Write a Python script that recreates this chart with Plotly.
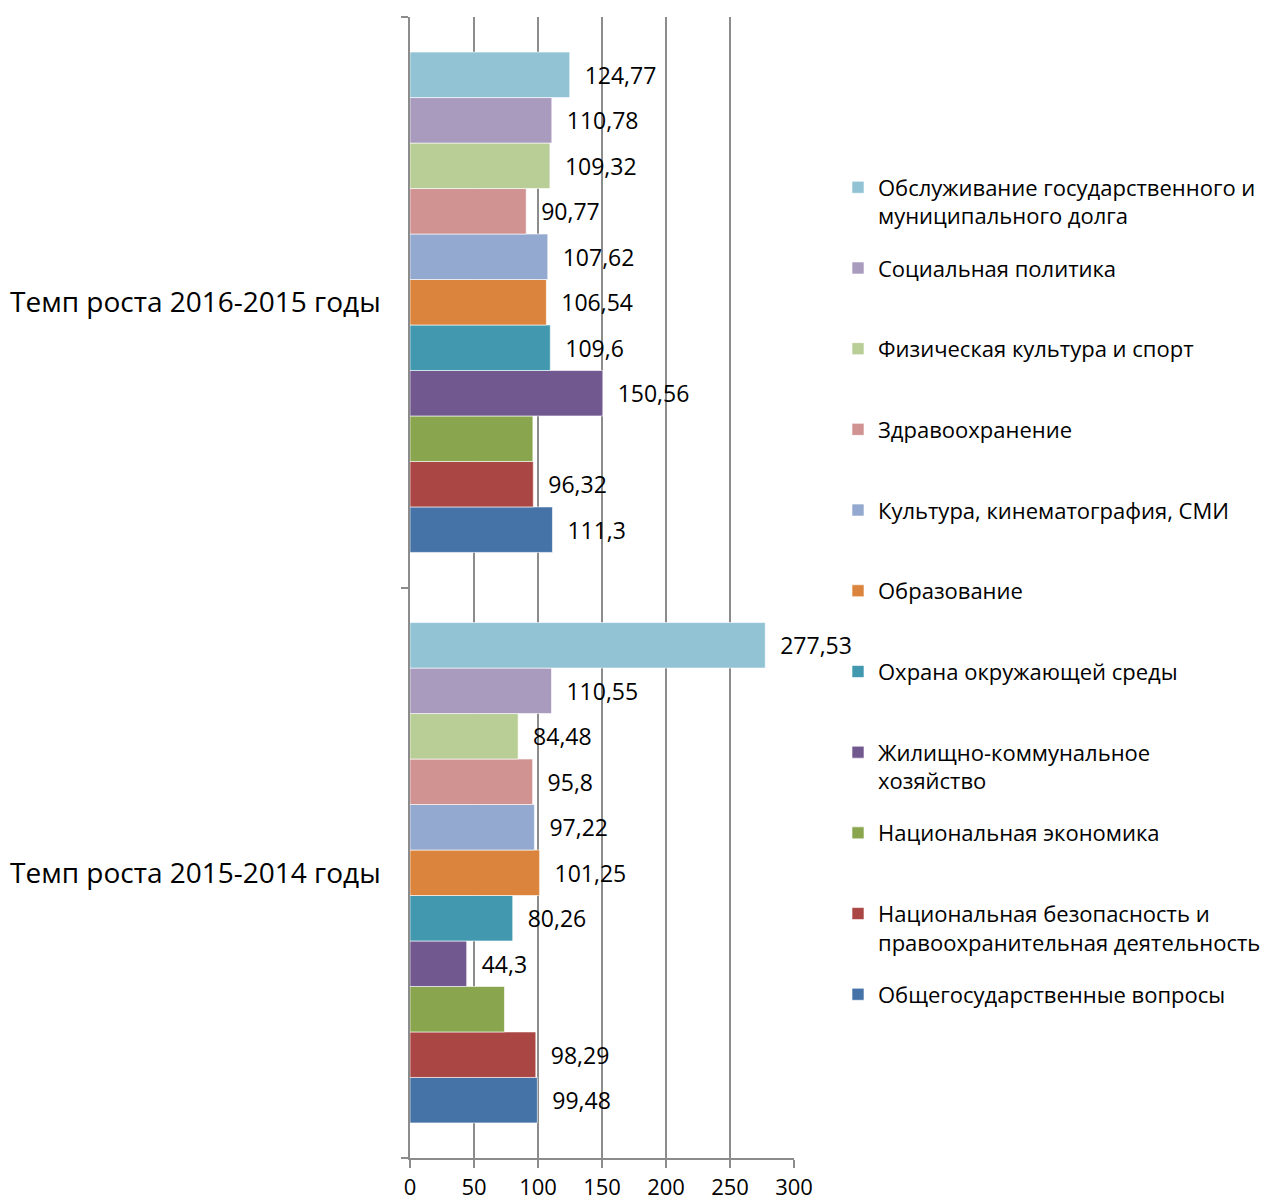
import plotly.graph_objects as go

categories = ["Темп роста 2015-2014 годы", "Темп роста 2016-2015 годы"]

# series in bottom-to-top order inside each group
series_names = [
    "Общегосударственные вопросы",
    "Национальная безопасность и<br>правоохранительная деятельность",
    "Национальная экономика",
    "Жилищно-коммунальное<br>хозяйство",
    "Охрана окружающей среды",
    "Образование",
    "Культура, кинематография, СМИ",
    "Здравоохранение",
    "Физическая культура и спорт",
    "Социальная политика",
    "Обслуживание государственного и<br>муниципального долга",
]
# values: [2015-2014, 2016-2015]
values = [
    [99.48, 111.3],
    [98.29, 96.32],
    [73.8, 96.0],
    [44.3, 150.56],
    [80.26, 109.6],
    [101.25, 106.54],
    [97.22, 107.62],
    [95.8, 90.77],
    [84.48, 109.32],
    [110.55, 110.78],
    [277.53, 124.77],
]
# labels shown (national economy has no labels)
show_label = [True, True, False, True, True, True, True, True, True, True, True]
colors = [
    "#4572A7", "#AA4643", "#89A54E", "#71588F", "#4198AF", "#DB843D",
    "#93A9CF", "#D19392", "#B9CD96", "#A99BBD", "#91C3D5",
]

x_ticks = [0, 50, 100, 150, 200, 250, 300]

FONT = "Open Sans"
GRID = "#8C8C8C"


def fmt(v):
    s = ("%g" % v).replace(".", ",")
    return "\u00a0\u00a0" + s


n = len(series_names)
fig = go.Figure()
for i, name in enumerate(series_names):
    legend_name = name if "<br>" in name else name + "<br>\u00a0"
    fig.add_trace(go.Bar(
        y=categories,
        x=values[i],
        orientation="h",
        name=legend_name,
        legendgroup="g%d" % i,
        legendrank=1000 + (n - i),
        marker=dict(color=colors[i], line=dict(color="rgba(255,255,255,0.6)", width=1)),
        text=[fmt(v) for v in values[i]] if show_label[i] else ["", ""],
        textposition="outside",
        textfont=dict(family=FONT, size=23, color="black"),
        constraintext="none",
        cliponaxis=False,
        hoverinfo="x+name",
    ))

fig.update_layout(
    width=1270,
    height=1192,
    margin=dict(l=402, r=484, t=9, b=42, autoexpand=False),
    paper_bgcolor="white",
    plot_bgcolor="white",
    barmode="group",
    bargap=0.123,
    bargroupgap=0,
    font=dict(family=FONT, size=22, color="black"),
    showlegend=True,
    legend=dict(
        x=1.1146, xanchor="left",
        y=0.869, yanchor="top",
        traceorder="grouped",
        tracegroupgap=20.5,
        valign="top",
        font=dict(family=FONT, size=22, color="black"),
        bgcolor="rgba(0,0,0,0)",
    ),
    xaxis=dict(
        range=[0, 300],
        tickvals=x_ticks,
        ticktext=[str(t) for t in x_ticks],
        showgrid=True,
        gridcolor=GRID,
        gridwidth=1.5,
        zeroline=False,
        showline=True,
        linecolor=GRID,
        linewidth=1.5,
        ticks="outside",
        ticklen=8,
        tickcolor=GRID,
        tickwidth=1.5,
        ticklabelstandoff=1,
        tickfont=dict(family=FONT, size=22, color="black"),
        fixedrange=True,
    ),
    yaxis=dict(
        type="category",
        categoryorder="array",
        categoryarray=categories,
        tickson="boundaries",
        ticks="outside",
        ticklen=7,
        tickcolor=GRID,
        tickwidth=1.5,
        showline=True,
        linecolor=GRID,
        linewidth=1.5,
        showgrid=False,
        ticklabelstandoff=22,
        tickfont=dict(family=FONT, size=28, color="black"),
        fixedrange=True,
    ),
)

fig.write_html("out.html")
